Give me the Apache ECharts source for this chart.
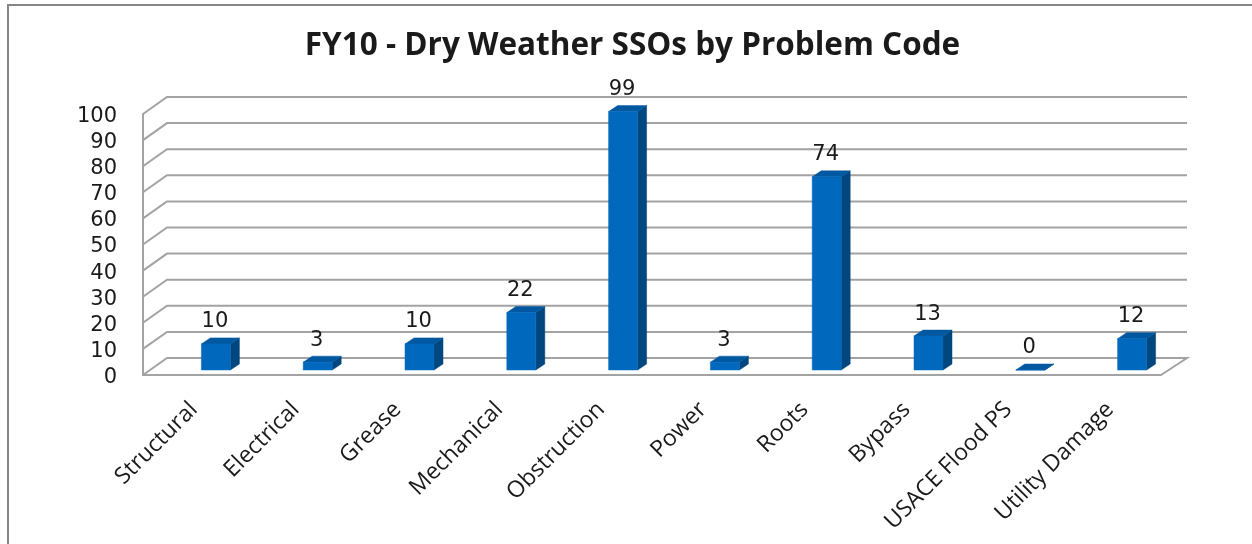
<!DOCTYPE html>
<html><head><meta charset="utf-8">
<style>html,body{margin:0;padding:0;background:#fff}#c{width:1252px;height:544px}</style>
<script src="https://cdn.jsdelivr.net/npm/echarts@6/dist/echarts.min.js"></script>
</head><body><div id="c"></div>
<script>
const categories = ['Structural','Electrical','Grease','Mechanical','Obstruction','Power','Roots','Bypass','USACE Flood PS','Utility Damage'];
const values = [10,3,10,22,99,3,74,13,0,12];
const gridValues = [0,10,20,30,40,50,60,70,80,90,100];
const titleText = 'FY10 - Dry Weather SSOs by Problem Code';
const fontFamily = 'Open Sans';
const numFont = 'DejaVu Sans';
const lineColor = '#a3a3a3';
const chart = echarts.init(document.getElementById('c'));
const wallDx = 24, wallEndDx = 26, wallDy = -17, barShiftX = 22, barShiftY = -5, barW = 29, barDx = 9, barDy = -6;
chart.setOption({
  animation:false,
  backgroundColor:'#fff',
  title:{text:titleText,left:627.5,top:25,textAlign:'center',textStyle:{fontFamily:fontFamily,fontSize:31.5,fontWeight:'bold',color:'#1a1a1a'}},
  grid:{left:143,top:114,width:1018,height:261},
  xAxis:{type:'category',data:categories,axisTick:{show:false},
    axisLine:{lineStyle:{color:lineColor,width:2}},
    axisLabel:{rotate:45,interval:0,margin:31,fontFamily:fontFamily,fontSize:23,color:'#1a1a1a'}},
  yAxis:{type:'value',min:0,max:100,interval:10,splitLine:{show:false},axisTick:{show:false},
    axisLine:{show:true,lineStyle:{color:lineColor,width:2}},
    axisLabel:{margin:26,verticalAlign:'top',lineHeight:5,fontFamily:numFont,fontSize:21,color:'#1a1a1a'}},
  series:[
   {type:'custom',coordinateSystem:'cartesian2d',silent:true,z:1,
    data:gridValues.map(v=>[0,v]),
    renderItem(params,api){
      const v=api.value(1);
      const y=api.coord([0,v])[1];
      const g=params.coordSys;
      const x0=g.x,x1=g.x+g.width;
      const pts=[[x0,y],[x0+wallDx,y+wallDy],[x1+wallEndDx,y+wallDy]];
      if(v===0)pts.push([x1,y]);
      return {type:'polyline',shape:{points:pts},style:{stroke:lineColor,lineWidth:2,fill:null}};
    }},
   {type:'custom',coordinateSystem:'cartesian2d',silent:true,z:3,
    data:values.map((v,i)=>[i,v]),
    renderItem(params,api){
      const i=api.value(0),v=api.value(1);
      const c0=api.coord([i,0]),c1=api.coord([i,v]);
      const l=c0[0]+barShiftX-barW/2,r=l+barW,b=c0[1]+barShiftY,t=c1[1]+barShiftY;
      const poly=(pts,fill)=>({type:'polygon',shape:{points:pts},style:{fill:fill,stroke:fill,lineWidth:.5}});
      return {type:'group',children:[
        poly([[r,b],[r+barDx,b+barDy],[r+barDx,t+barDy],[r,t]],'#00477f'),
        poly([[l,t],[l+barDx,t+barDy],[r+barDx,t+barDy],[r,t]],'#0058a0'),
        poly([[l,t],[r,t],[r,b],[l,b]],'#0068bd'),
        {type:'text',style:{text:String(v),x:(l+r)/2-1,y:t-22,align:'center',verticalAlign:'middle',fontFamily:numFont,fontSize:21,fill:'#1a1a1a'}}
      ]};
    }}
  ],
  graphic:[{type:'polyline',shape:{points:[[8,560],[8,5],[1260,5]]},style:{stroke:'#868686',lineWidth:2,fill:null},z:0}]
});
</script></body></html>
